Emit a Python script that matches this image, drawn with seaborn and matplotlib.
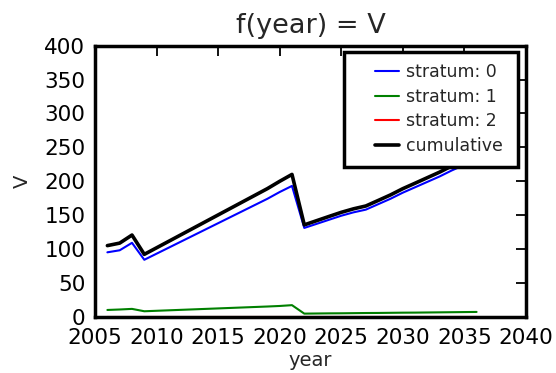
import numpy as np
import pandas as pd
import matplotlib
matplotlib.use("Agg")
import matplotlib.pyplot as plt
from matplotlib.legend_handler import HandlerLine2D
import seaborn as sns

years = list(range(2006, 2037))
stratum0 = [95, 98, 109, 84, 93, 102, 111, 120, 129, 138, 147, 156, 165, 174, 184, 193,
            131, 137, 143, 149, 154, 158, 166, 174, 183, 191, 199, 207, 216, 224, 232]
stratum1 = [9.9, 10.6, 11.5, 8.0, 8.7, 9.4, 10.1, 10.8, 11.5, 12.2, 12.9, 13.6, 14.3, 15.0, 15.8, 17.0,
            4.5, 4.7, 4.9, 5.0, 5.2, 5.4, 5.5, 5.7, 5.9, 6.0, 6.2, 6.4, 6.6, 6.8, 7.0]
stratum2 = [0.0] * len(years)
cumulative = [a + b + c for a, b, c in zip(stratum0, stratum1, stratum2)]

sns.set_theme(style="white")
plt.rcParams.update({
    "font.family": ["DejaVu Sans"],
    "axes.linewidth": 2.5,
    "xtick.direction": "in",
    "ytick.direction": "in",
    "xtick.top": True,
    "ytick.right": True,
    "xtick.major.size": 7,
    "ytick.major.size": 7,
    "xtick.major.width": 1.3,
    "ytick.major.width": 1.3,
    "axes.edgecolor": "black",
})

df = pd.DataFrame({"year": years, "s0": stratum0, "s1": stratum1,
                   "s2": stratum2, "cum": cumulative})

fig = plt.figure(figsize=(5.56, 3.73), dpi=100)
ax = fig.add_axes([0.171, 0.151, 0.7747, 0.7265])

sns.lineplot(data=df, x="year", y="s0", color=(0, 0, 1), lw=1.5, label="stratum: 0", ax=ax)
sns.lineplot(data=df, x="year", y="s1", color=(0, 0.5, 0), lw=1.5, label="stratum: 1", ax=ax)
sns.lineplot(data=df, x="year", y="s2", color=(1, 0, 0), lw=1.5, label="stratum: 2", ax=ax)
sns.lineplot(data=df, x="year", y="cum", color="black", lw=2.6, label="cumulative", ax=ax)

ax.set_xlim(2005, 2040)
ax.set_ylim(0, 400)
ax.set_xticks(range(2005, 2041, 5))
ax.set_yticks(range(0, 401, 50))
ax.tick_params(axis="x", labelsize=15.5, colors="black", pad=8)
ax.tick_params(axis="y", labelsize=15.5, colors="black", pad=7)
ax.set_xlabel("year", fontsize=14, labelpad=2)
ax.set_ylabel("V", fontsize=14, labelpad=9)
ax.set_title("f(year) = V", fontsize=19.5, pad=9)

handles, labels = ax.get_legend_handles_labels()
leg = ax.legend(handles, labels, loc="upper right", fontsize=12.5, frameon=True,
                fancybox=False, edgecolor="black", framealpha=1,
                bbox_to_anchor=(0.5785, 0.0, 0.404, 0.978), mode="expand",
                borderaxespad=0.0, borderpad=0.68, labelspacing=0.37,
                handlelength=2.45, handletextpad=0.42,
                handler_map={h: HandlerLine2D(xpad=1.1) for h in handles})
leg.get_frame().set_linewidth(2.5)

fig.savefig("out.png", dpi=100)
